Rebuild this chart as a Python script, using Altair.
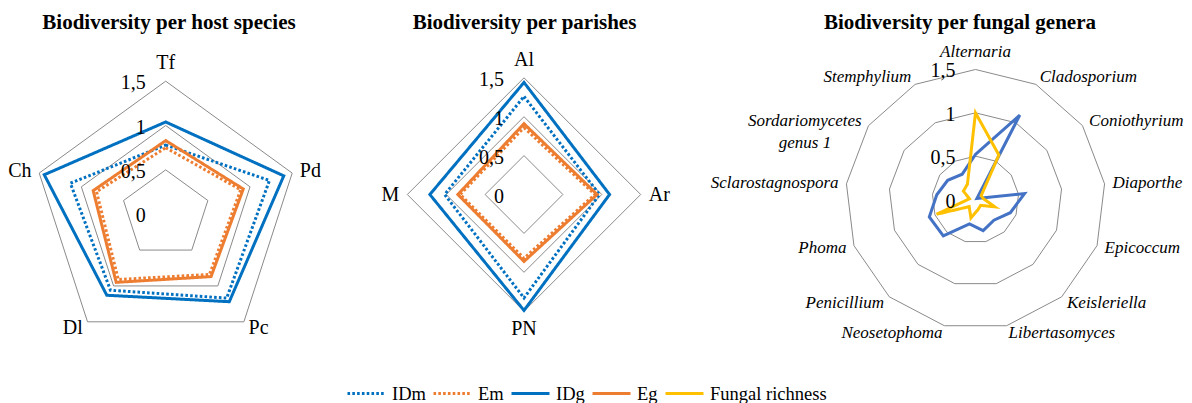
import altair as alt
import pandas as pd

# ---------------- data ----------------
host_species = ["Tf", "Pd", "Pc", "Dl", "Ch"]
host_IDm = [0.78, 1.23, 1.17, 1.06, 1.13]
host_Em = [0.75, 0.89, 0.84, 0.91, 0.82]
host_IDg = [1.04, 1.40, 1.22, 1.13, 1.44]
host_Eg = [0.83, 0.92, 0.87, 0.95, 0.86]

parishes = ["Al", "Ar", "PN", "M"]
parish_IDm = [1.26, 0.97, 1.33, 1.02]
parish_Em = [0.86, 0.91, 0.82, 0.82]
parish_IDg = [1.44, 1.10, 1.49, 1.21]
parish_Eg = [0.91, 0.94, 0.86, 0.85]

genera = ["Alternaria", "Cladosporium", "Coniothyrium", "Diaporthe", "Epicoccum",
          "Keisleriella", "Libertasomyces", "Neosetophoma", "Penicillium", "Phoma",
          "Sclarostagnospora", "Sordariomycetes\ngenus 1", "Stemphylium"]
genus_diversity = [0.52, 1.10, 0.02, 0.57, 0.43, 0.32, 0.37, 0.29, 0.56, 0.57, 0.45, 0.39, 0.33]
genus_richness = [1.00, 0.58, 0.08, 0.09, 0.24, 0.09, 0.12, 0.22, 0.11, 0.48, 0.07, 0.17, 0.20]

series_order = ["IDm", "Em", "IDg", "Eg", "Fungal richness"]
ring_levels = [0.5, 1.0, 1.5]
tick_values = [0, 0.5, 1, 1.5]
tick_labels = ["0", "0,5", "1", "1,5"]
titles = ["Biodiversity per host species", "Biodiversity per parishes",
          "Biodiversity per fungal genera"]

# ---------------- style / layout ----------------
FONT = "Liberation Serif"
GRID = "#8a8a8a"
BLUE, ORANGE, YELLOW, BLUE3 = "#0070C0", "#ED7D31", "#FFC000", "#4472C4"
DOT, SOLID = [2.6, 2.2], [1, 0]
series_colors = [BLUE, ORANGE, BLUE, ORANGE, YELLOW]
series_dashes = [DOT, DOT, SOLID, SOLID, SOLID]

TOP, BOTTOM = 37.5, 378        # page y of plot-area top / bottom
panel_edges = [(8, 340), (340, 705), (705, 1184)]
centers = [(165.7, 214.7), (524.0, 195.0), (975.5, 200.0)]
px_per_unit = [88.67, 77.8, 86.67]
title_centers = [169, 524.5, 960]

color_scale = alt.Scale(domain=series_order, range=series_colors)
dash_scale = alt.Scale(domain=series_order, range=series_dashes)
legend = alt.Legend(title=None, orient="none", legendX=346 - 8, legendY=373.5 - TOP,
                    direction="horizontal", columns=5, symbolType="stroke",
                    symbolSize=1444, symbolStrokeWidth=3, labelFont=FONT,
                    labelFontSize=18.5, labelColor="black", labelOffset=5,
                    columnPadding=1, padding=0, labelLimit=0)


def long_frame(cats, series):
    rows = []
    for name, vals in series:
        for i, (c, v) in enumerate(zip(cats, vals)):
            rows.append(dict(series=name, cat=c, idx=i, n=len(cats), value=v))
    return pd.DataFrame(rows)


def polar(ch, rfield):
    return ch.transform_calculate(ang="2*PI*datum.idx/datum.n").transform_calculate(
        px=f"datum.{rfield}*sin(datum.ang)", py=f"datum.{rfield}*cos(datum.ang)")


def panel(p, cats, series, extra=None, italic=False, label_size=20):
    (L, R), (cx, cy), k = panel_edges[p], centers[p], px_per_unit[p]
    W, H = R - L, BOTTOM - TOP
    xs = alt.Scale(domain=[-(cx - L) / k, (R - cx) / k], nice=False, zero=False)
    ys = alt.Scale(domain=[-(BOTTOM - cy) / k, (cy - TOP) / k], nice=False, zero=False)
    X = lambda f: alt.X(f, type="quantitative", scale=xs, axis=None)
    Y = lambda f: alt.Y(f, type="quantitative", scale=ys, axis=None)
    n = len(cats)

    grid_df = pd.DataFrame([dict(ring=r, idx=i, n=n) for r in ring_levels for i in range(n)])
    grid = polar(alt.Chart(grid_df), "ring").mark_line(
        interpolate="linear-closed", color=GRID, strokeWidth=1).encode(
        x=X("px"), y=Y("py"), detail="ring:N", order="idx:Q")

    layers = [grid]
    if extra is not None:
        edf = long_frame(cats, [("extra", extra)])
        layers.append(polar(alt.Chart(edf), "value").mark_line(
            interpolate="linear-closed", color=BLUE3, strokeWidth=3).encode(
            x=X("px"), y=Y("py"), order="idx:Q"))
    sdf = long_frame(cats, series)
    layers.append(polar(alt.Chart(sdf), "value").mark_line(
        interpolate="linear-closed", strokeWidth=3).encode(
        x=X("px"), y=Y("py"), order="idx:Q",
        color=alt.Color("series:N", scale=color_scale, legend=legend),
        strokeDash=alt.StrokeDash("series:N", scale=dash_scale, legend=legend)))

    tdf = pd.DataFrame(dict(v=tick_values, lab=tick_labels))
    layers.append(alt.Chart(tdf).transform_calculate(x0="0").mark_text(
        align="right", baseline="middle", dx=-20, dy=2, font=FONT, fontSize=20,
        color="black").encode(x=X("x0"), y=Y("v"), text="lab:N"))

    ldf = pd.DataFrame([dict(cat=c, idx=i, n=n, wrap=("\n" in c)) for i, c in enumerate(cats)])
    lr = 1.5 + 8 / k
    base = alt.Chart(ldf).transform_calculate(ang="2*PI*datum.idx/datum.n").transform_calculate(
        s="sin(datum.ang)", c="cos(datum.ang)").transform_calculate(
        lx=f"{lr}*datum.s", ly=f"{lr}*datum.c")
    tstyle = dict(font=FONT, fontSize=label_size, color="black",
                  fontStyle="italic" if italic else "normal")
    specs = [
        ("!datum.wrap && datum.s > 0.1", dict(align="left", baseline="middle")),
        ("!datum.wrap && datum.s < -0.1", dict(align="right", baseline="middle")),
        ("abs(datum.s) <= 0.1 && datum.c > 0", dict(align="center", baseline="bottom")),
        ("abs(datum.s) <= 0.1 && datum.c < 0", dict(align="center", baseline="top")),
        ("datum.wrap", dict(align="center", baseline="middle", lineBreak="\n",
                            lineHeight=22, dx=-57)),
    ]
    for flt, st in specs:
        layers.append(base.transform_filter(flt).mark_text(**st, **tstyle).encode(
            x=X("lx"), y=Y("ly"), text="cat:N"))

    return alt.layer(*layers).properties(
        width=W, height=H,
        title=alt.TitleParams(titles[p], dx=title_centers[p] - (L + R) / 2))


p1 = panel(0, host_species, [("IDm", host_IDm), ("Em", host_Em), ("IDg", host_IDg), ("Eg", host_Eg)])
p2 = panel(1, parishes, [("IDm", parish_IDm), ("Em", parish_Em), ("IDg", parish_IDg), ("Eg", parish_Eg)])
p3 = panel(2, genera, [("Fungal richness", genus_richness)], extra=genus_diversity,
           italic=True, label_size=17)

chart = alt.hconcat(p1, p2, p3, spacing=0).resolve_scale(
    x="independent", y="independent", color="shared", strokeDash="shared").properties(
    padding={"left": 0, "top": 4, "right": 0, "bottom": 0}).configure_view(
    stroke=None).configure_title(
    font=FONT, fontSize=21, fontWeight="bold", color="black", anchor="middle",
    frame="group", offset=0)

chart.save("out.html", embed_options={"renderer": "svg", "actions": False})
